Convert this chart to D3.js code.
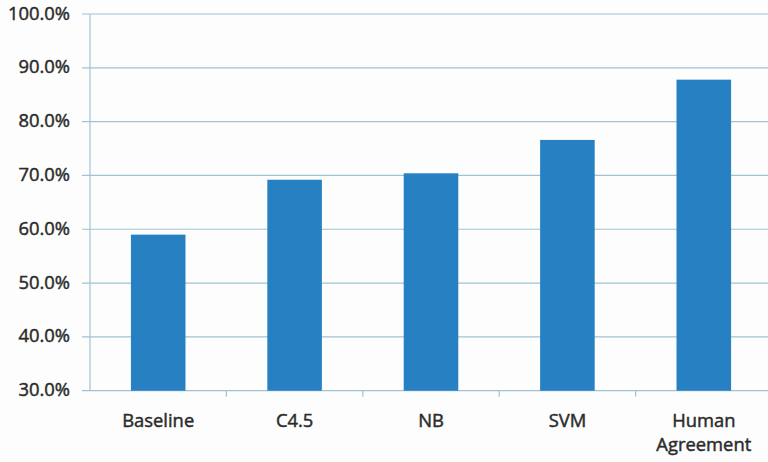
<!DOCTYPE html>
<html><head><meta charset="utf-8">
<script src="https://cdn.jsdelivr.net/npm/d3@7"></script>
<style>body{margin:0;background:#fdfdfd}svg{display:block}</style>
</head><body>
<svg id="c" width="768" height="462"></svg>
<script>
const categories = ["Baseline", "C4.5", "NB", "SVM", "Human Agreement"];
const values = [0.590, 0.692, 0.704, 0.766, 0.878];
const yTicks = [0.3, 0.4, 0.5, 0.6, 0.7, 0.8, 0.9, 1.0];

(function () {
const svg = d3.select("#c");
const mLeft = 90, mRight = 772, mTop = 14, mBottom = 390.7;
const x = d3.scaleBand().domain(categories).range([mLeft, mRight]).paddingInner(0.6).paddingOuter(0.3);
const y = d3.scaleLinear().domain([0.3, 1.0]).range([mBottom, mTop]);
const font = "'Open Sans', Lato, sans-serif";
const gridCol = "#9fc3d2";
const textCol = "#2b2b2b";
const sx = 1.05;

// gridlines
svg.append("g").selectAll("line").data(yTicks).join("line")
  .attr("x1", mLeft - 8).attr("x2", 768)
  .attr("y1", d => y(d)).attr("y2", d => y(d))
  .attr("stroke", gridCol).attr("stroke-width", 1.2);

// y axis line
svg.append("line").attr("x1", mLeft).attr("x2", mLeft).attr("y1", mTop).attr("y2", mBottom)
  .attr("stroke", gridCol).attr("stroke-width", 1.2);

// bars
svg.append("g").selectAll("rect").data(values).join("rect")
  .attr("x", (d, i) => x(categories[i]))
  .attr("width", x.bandwidth())
  .attr("y", d => y(d))
  .attr("height", d => y(0.3) - y(d))
  .attr("fill", "#2680c2");

// x axis category tick marks
const step = x.step();
svg.append("g").selectAll("line").data(categories.slice(1)).join("line")
  .attr("x1", d => x(d) - (step - x.bandwidth()) / 2)
  .attr("x2", d => x(d) - (step - x.bandwidth()) / 2)
  .attr("y1", mBottom).attr("y2", mBottom + 6)
  .attr("stroke", gridCol).attr("stroke-width", 1.2);

const styleText = sel => sel
  .attr("font-family", font).attr("font-size", 17.5).attr("fill", textCol)
  .attr("stroke", textCol).attr("stroke-width", 0.45).attr("paint-order", "stroke");

// y tick labels
svg.append("g").selectAll("text").data(yTicks).join("text")
  .attr("transform", d => `translate(70,${y(d) + 5.5}) scale(${sx},1)`)
  .attr("text-anchor", "end")
  .call(styleText)
  .text(d => d3.format(".1%")(d));

// x labels
svg.append("g").selectAll("text").data(categories).join("text")
  .attr("transform", d => `translate(${x(d) + x.bandwidth() / 2},427) scale(${sx},1)`)
  .attr("text-anchor", "middle")
  .call(styleText)
  .each(function (d) {
    const t = d3.select(this);
    d.split(" ").forEach((w, i) => {
      t.append("tspan").attr("x", 0).attr("dy", i === 0 ? 0 : 24).text(w);
    });
  });
})();
</script>
</body></html>
